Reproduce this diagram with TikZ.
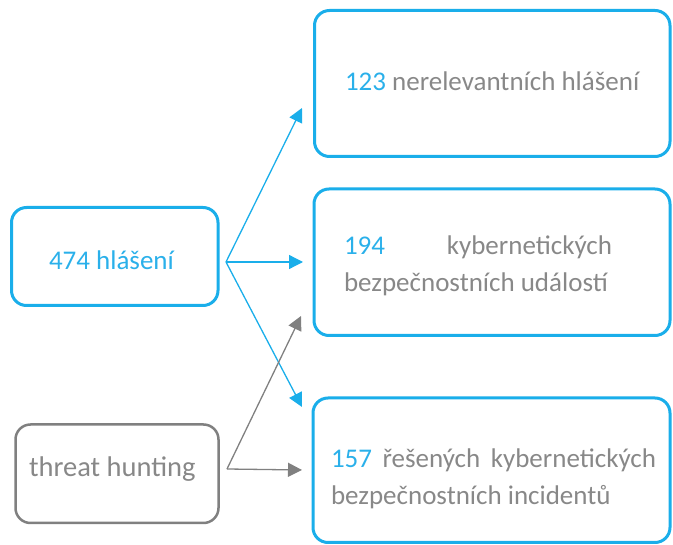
\documentclass[tikz,border=0pt]{standalone}
\usepackage{fontspec}
\setmainfont{Carlito}
\usetikzlibrary{arrows.meta}
\definecolor{cblue}{HTML}{1AAEEA}
\definecolor{tblue}{HTML}{2AB0EA}
\definecolor{cgray}{HTML}{808080}
\definecolor{tgray}{HTML}{888888}
\tikzset{
  box/.style={rectangle, rounded corners=15pt, inner sep=0pt, outer sep=0pt},
  bluebox/.style={box, draw=cblue, line width=3pt},
  graybox/.style={box, draw=cgray, line width=2.5pt},
  label/.style={anchor=base west, inner sep=0pt, outer sep=0pt,
    font=\fontsize{27}{37}\selectfont, align=left},
  bluearrow/.style={draw=cblue, line width=1.3pt, -{Triangle[length=14pt,width=14pt]}},
  grayarrow/.style={draw=cgray, line width=1.3pt, -{Triangle[length=14pt,width=14pt]}},
}
\begin{document}
\begin{tikzpicture}[x=1pt, y=-1pt]
  \useasboundingbox (0,0) rectangle (673,545);

  % source boxes
  \node[bluebox, minimum width=206.5pt, minimum height=98pt] (a) at (114.75,256.5) {};
  \node[graybox, minimum width=203pt, minimum height=98.5pt] (b) at (117,473.75) {};

  % result boxes
  \node[bluebox, minimum width=355.5pt, minimum height=146pt] (r1) at (492.25,83.5) {};
  \node[bluebox, minimum width=356pt, minimum height=146.5pt] (r2) at (492,262.25) {};
  \node[bluebox, minimum width=357pt, minimum height=144.5pt] (r3) at (491.5,470.25) {};

  % texts (base anchor of two-line labels sits on the last line)
  \node[label, text=tblue] (ta) at (49,270) {474 hlášení};
  \node[label, text=tgray, font=\fontsize{28.5}{37}\selectfont] (tb) at (29,477) {threat hunting};
  \node[label, text=tgray] (t1) at (345,91) {\textcolor{tblue}{123} nerelevantních hlášení};
  \node[label, text=tgray] (t2) at (344,292)
    {\makebox[268pt][s]{\textcolor{tblue}{194} \hfill kybernetických}\\bezpečnostních událostí};
  \node[label, text=tgray] (t3) at (331,505)
    {\makebox[325pt][s]{\textcolor{tblue}{157} řešených kybernetických}\\bezpečnostních incidentů};

  % connector end points
  \coordinate (sa) at (226,262);
  \coordinate (sb) at (227,469);
  \coordinate (e1) at (302,108);
  \coordinate (e2) at (303,262);
  \coordinate (e3) at (302,407);
  \coordinate (e4) at (301,316);
  \coordinate (e5) at (302,470);

  % connectors
  \draw[bluearrow] (sa) -- (e1);
  \draw[bluearrow] (sa) -- (e2);
  \draw[bluearrow] (sa) -- (e3);
  \draw[grayarrow] (sb) -- (e4);
  \draw[grayarrow] (sb) -- (e5);
\end{tikzpicture}
\end{document}
